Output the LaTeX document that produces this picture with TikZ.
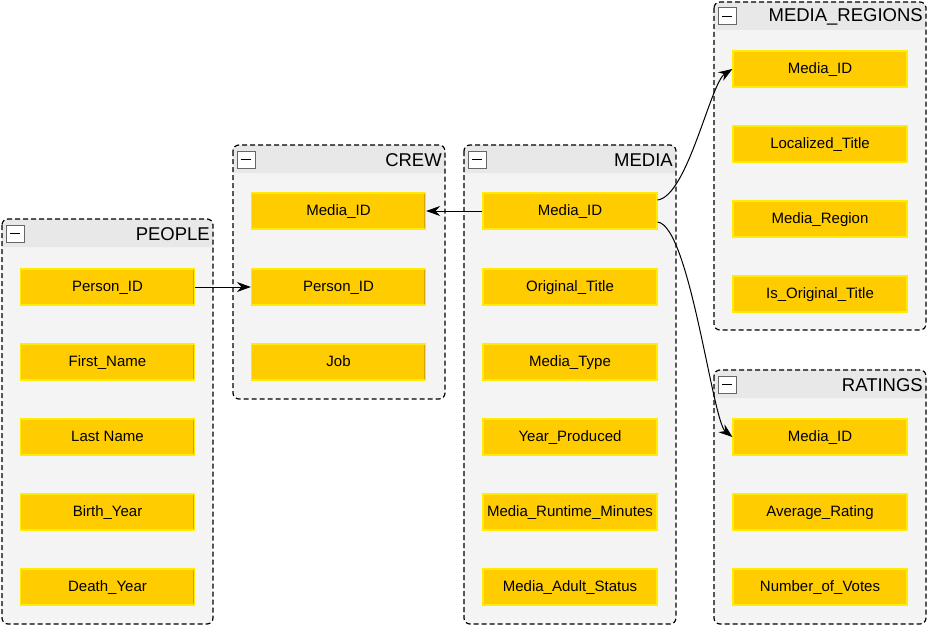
\documentclass[tikz,border=0pt]{standalone}
\usepackage{fontspec}
\setmainfont{Liberation Sans}
\usetikzlibrary{arrows.meta}

\definecolor{fieldfill}{RGB}{255,204,0}
\definecolor{fieldline}{RGB}{210,165,0}
\definecolor{fieldlight}{RGB}{255,236,0}
\definecolor{hdrfill}{RGB}{232,232,232}
\definecolor{bodyfill}{RGB}{244,244,244}

\tikzset{
  field/.style={draw=fieldlight, fill=fieldfill, line width=1.2pt, minimum width=174pt,
    minimum height=36pt, inner sep=0pt, text height=11pt, text depth=2pt,
    font=\fontsize{15}{17}\selectfont,
    path picture={\draw[fieldline, line width=2.6pt]
      (path picture bounding box.south west) -- (path picture bounding box.south east)
      -- (path picture bounding box.north east);}},
  grptitle/.style={anchor=east, inner sep=0pt, font=\fontsize{18.5}{20}\selectfont},
  link/.style={-{Stealth[length=14pt,width=10pt]}, line width=1pt}
}

% table frame: x1 y1 x2 y2 title
\newcommand{\tablebox}[5]{%
  \fill[bodyfill, rounded corners=6pt] (#1,#2) rectangle (#3,#4);
  \fill[hdrfill] (#1,#2+28) [rounded corners=6pt] -- (#1,#2) -- (#3,#2) [sharp corners] -- (#3,#2+28) -- cycle;
  \draw[line width=1.2pt, rounded corners=6pt, dash pattern=on 5pt off 3pt] (#1,#2) rectangle (#3,#4);
  \draw[fill=white, draw=gray!80!black, line width=1pt] (#1+4,#2+6) rectangle (#1+22,#2+23);
  \draw[line width=1.6pt] (#1+8,#2+14.5) -- (#1+18,#2+14.5);
  \node[grptitle] at (#3-3,#2+15) {#5};
}

\begin{document}
\begin{tikzpicture}[x=1pt, y=-1pt]
\useasboundingbox[fill=white] (0,0) rectangle (928,626);

\tablebox{2}{219}{213}{624}{PEOPLE}
\tablebox{233}{145}{445}{399}{CREW}
\tablebox{464}{145}{676}{624}{MEDIA}
\tablebox{714}{2}{926}{330}{MEDIA\_REGIONS}
\tablebox{714}{370}{926}{624}{RATINGS}

% PEOPLE
\node[field] (pplPerson) at (107.5,287) {Person\_ID};
\node[field] (pplFirst) at (107.5,362) {First\_Name};
\node[field] (pplLast) at (107.5,437) {Last Name};
\node[field] (pplBirth) at (107.5,512) {Birth\_Year};
\node[field] (pplDeath) at (107.5,587) {Death\_Year};

% CREW
\node[field] (crewMedia) at (338.5,211) {Media\_ID};
\node[field] (crewPerson) at (338.5,287) {Person\_ID};
\node[field] (crewJob) at (338.5,362) {Job};

% MEDIA
\node[field] (medID) at (570,211) {Media\_ID};
\node[field] (medTitle) at (570,287) {Original\_Title};
\node[field] (medType) at (570,362) {Media\_Type};
\node[field] (medYear) at (570,437) {Year\_Produced};
\node[field] (medRuntime) at (570,512) {Media\_Runtime\_Minutes};
\node[field] (medAdult) at (570,587) {Media\_Adult\_Status};

% MEDIA_REGIONS
\node[field] (regID) at (820,69) {Media\_ID};
\node[field] (regTitle) at (820,144) {Localized\_Title};
\node[field] (regRegion) at (820,219) {Media\_Region};
\node[field] (regOrig) at (820,294) {Is\_Original\_Title};

% RATINGS
\node[field] (ratID) at (820,437) {Media\_ID};
\node[field] (ratAvg) at (820,512) {Average\_Rating};
\node[field] (ratVotes) at (820,587) {Number\_of\_Votes};

% links
\draw[link] (pplPerson.east) -- (crewPerson.west);
\draw[link] (medID.west) -- (crewMedia.east);
\draw[link] ([yshift=11pt]medID.east) .. controls +(30,-4) and +(-22,14) .. (regID.west);
\draw[link] ([yshift=-11pt]medID.east) .. controls +(32,4) and +(-20,-16) .. (ratID.west);
\end{tikzpicture}
\end{document}
